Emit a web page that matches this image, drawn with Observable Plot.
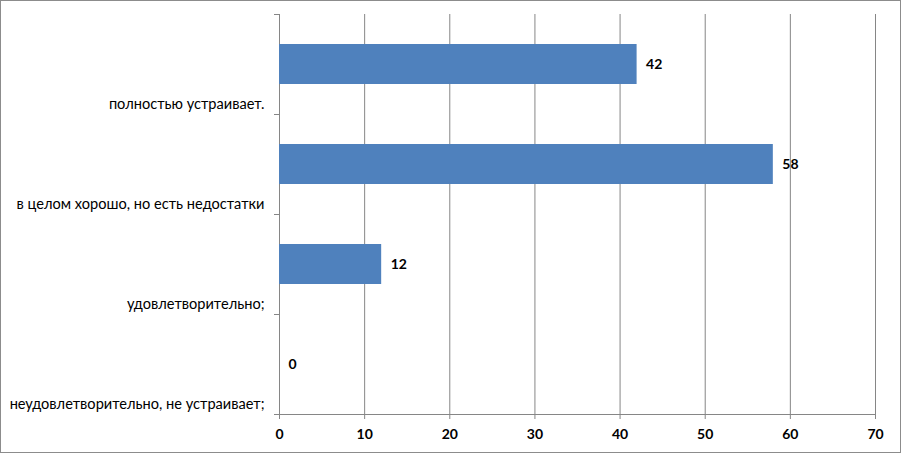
<!DOCTYPE html>
<html><head><meta charset="utf-8">
<script src="https://cdn.jsdelivr.net/npm/d3@7"></script>
<script src="https://cdn.jsdelivr.net/npm/@observablehq/plot@0.6"></script>
<style>
body{margin:0;background:#fff}
#chart svg{display:block;border:1px solid #8c8c8c;}
</style>
</head><body><div id="chart"></div>
<script>
const categories = [
  "полностью устраивает.",
  "в целом хорошо, но есть недостатки",
  "удовлетворительно;",
  "неудовлетворительно, не устраивает;"
];
const values = [42, 58, 12, 0];
const xTicks = [0, 10, 20, 30, 40, 50, 60, 70];
const data = categories.map((c, i) => ({category: c, value: values[i]}));
const grid = "#868686";
const chart = Plot.plot({
  width: 899, height: 451,
  marginLeft: 278, marginRight: 25, marginTop: 13, marginBottom: 38,
  style: {fontFamily: "Lato, 'Open Sans', sans-serif", background: "white", color: "black"},
  x: {domain: [0, 70], axis: null, label: null},
  y: {domain: categories, paddingInner: 0.6, paddingOuter: 0.3, axis: null, label: null},
  marks: [
    Plot.gridX(xTicks, {stroke: grid, strokeOpacity: 1}),
    Plot.ruleY(categories.slice(-1), {x1: 0, x2: 70, dy: 50, stroke: grid}),
    Plot.axisY({tickSize: 5, tickFormat: () => "", label: null, dy: 50, stroke: grid, strokeOpacity: 1}),
    Plot.axisY(categories.slice(0, 1), {tickSize: 5, tickFormat: () => "", label: null, dy: -50, stroke: grid, strokeOpacity: 1}),
    Plot.axisX(xTicks, {tickSize: 5, tickPadding: 10, label: null, stroke: grid, strokeOpacity: 1, fontWeight: "bold", fontSize: 14, fill: "black"}),
    Plot.barX(data, {x: "value", y: "category", fill: "#4F81BD"}),
    Plot.text(data, {frameAnchor: "left", y: "category", text: "category", dx: -15, dy: 40, textAnchor: "end", fontSize: 14.6, fill: "black"}),
    Plot.text(data, {x: "value", y: "category", text: d => String(d.value), dx: 9, textAnchor: "start", fontWeight: "bold", fontSize: 14, fill: "black"})
  ]
});
document.getElementById("chart").append(chart);
</script>
</body></html>
